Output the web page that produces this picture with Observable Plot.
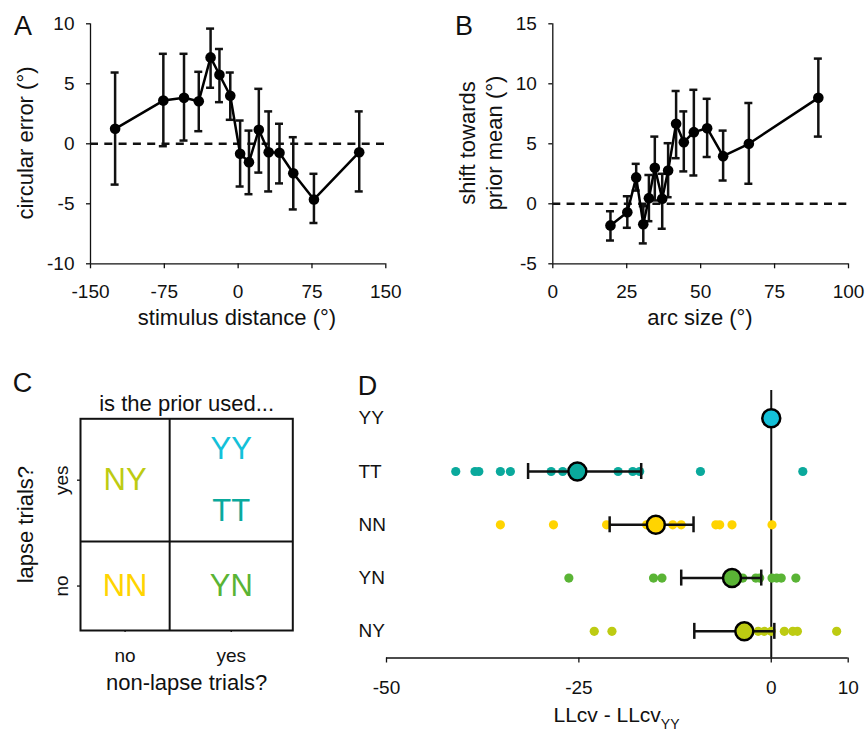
<!DOCTYPE html>
<html>
<head>
<meta charset="utf-8">
<script src="https://cdn.jsdelivr.net/npm/d3@7"></script>
<script src="https://cdn.jsdelivr.net/npm/@observablehq/plot@0.6"></script>
<style>
  html, body { margin: 0; padding: 0; background: #fff; }
  #root { position: relative; width: 865px; height: 730px; background: #fff; overflow: hidden;
          font-family: 'Liberation Sans', Arial, Helvetica, sans-serif; color: #111; }
  #root svg { position: absolute; }
  .lbl { position: absolute; line-height: 1; white-space: nowrap; }
</style>
</head>
<body>
<div id="root"></div>
<script>
// ---------- Panel A data ----------
const aDistance = [-125, -76, -55, -40, -28, -19, -8, 2, 11, 21, 31, 42, 56, 77, 123];
const aError    = [1.25, 3.6, 3.83, 3.55, 7.2, 5.75, 4.0, -0.83, -1.53, 1.17, -0.7, -0.75, -2.45, -4.64, -0.7];
const aErrHi    = [5.94, 7.5, 7.5, 6.0, 9.6, 7.9, 5.94, 1.94, 1.1, 4.58, 2.7, 1.67, 0.55, -2.5, 2.7];
const aErrLo    = [-3.4, -0.2, 0.27, 1.05, 4.67, 3.47, 2.0, -3.56, -4.2, -2.4, -3.97, -3.3, -5.47, -6.6, -3.97];
const aXTicks = [-150, -75, 0, 75, 150];
const aYTicks = [-10, -5, 0, 5, 10];

// ---------- Panel B data ----------
const bArc    = [19.5, 25.2, 28.2, 30.6, 32.5, 34.5, 37.0, 39.0, 41.7, 44.3, 47.7, 52.2, 57.6, 66.3, 89.8];
const bShift  = [-1.8, -0.7, 2.2, -1.7, 0.47, 3.0, 0.42, 2.78, 6.67, 5.13, 5.97, 6.3, 3.97, 5.0, 8.83];
const bErrHi  = [-0.62, 0.63, 3.33, -0.2, 2.4, 5.6, 2.5, 5.05, 9.4, 7.7, 9.5, 8.75, 6.1, 8.4, 12.1];
const bErrLo  = [-3.06, -2.0, 1.1, -3.3, -1.45, 0.28, -2.08, 0.55, 3.8, 2.7, 2.36, 3.9, 1.94, 1.67, 5.6];
const bXTicks = [0, 25, 50, 75, 100];
const bYTicks = [-5, 0, 5, 10, 15];

// ---------- Panel C data ----------
const cCols = ["no", "yes"];          // non-lapse trials?
const cRows = ["yes", "no"];          // lapse trials?
const cModel = ["NY", "YY", "TT", "NN", "YN"];
const cModelCol = ["no", "yes", "yes", "no", "yes"];
const cModelRow = ["yes", "yes", "yes", "no", "no"];

// ---------- Panel D data ----------
const dModels = ["YY", "TT", "NN", "YN", "NY"];
const dColors = ["#14C1D9", "#0AA99C", "#FFD400", "#5AB435", "#BDCB12"];
const dMean   = [0, -25.2, -15.0, -5.1, -3.5];
const dLo     = [null, -31.6, -21.0, -11.7, -10.0];
const dHi     = [null, -16.9, -10.1, -1.3, 0.4];
const dSubjTT = [-41.0, -38.5, -38.0, -35.2, -33.9, -28.6, -27.1, -19.9, -18.0, -17.1, -9.2, 4.1];
const dSubjNN = [-35.2, -28.3, -21.4, -16.2, -14.5, -12.8, -11.7, -7.2, -6.7, -5.1, 0.1];
const dSubjYN = [-26.3, -15.3, -14.2, -3.7, -2.0, -1.5, 0.1, 0.7, 1.3, 3.2];
const dSubjNY = [-23.0, -20.7, -1.7, -0.9, 0.0, 1.7, 2.8, 3.4, 8.5];
const dXTicks = [-50, -25, 0, 10];

// ---------- helpers ----------
const FONT = "'Liberation Sans', Arial, Helvetica, sans-serif";
const root = document.getElementById("root");
const baseStyle = {fontFamily: FONT, fontSize: "19px", color: "#111", background: "transparent", overflow: "visible"};
const fmt = d => String(d);

function place(svg, left, top) {
  svg.style.left = left + "px";
  svg.style.top = top + "px";
  root.appendChild(svg);
}
function label(html, cx, cy, size, rot = 0, extra = "") {
  const d = document.createElement("div");
  d.className = "lbl";
  d.innerHTML = html;
  d.style.cssText += `left:${cx}px;top:${cy}px;font-size:${size}px;transform:translate(-50%,-50%) rotate(${rot}deg);${extra}`;
  root.appendChild(d);
}

function errorPanel(data, xDomain, yDomain, xTicks, yTicks, margins, capPx) {
  return Plot.plot({
    width: 400, height: 300,
    ...margins,
    style: baseStyle,
    x: {domain: xDomain},
    y: {domain: yDomain},
    marks: [
      Plot.axisX({ticks: xTicks, tickFormat: fmt, tickSize: 5, tickPadding: 16, label: null, strokeWidth: 1.3}),
      Plot.axisY({ticks: yTicks, tickFormat: fmt, tickSize: 4, tickPadding: 12, label: null, strokeWidth: 1.3}),
      Plot.ruleX([xDomain[0]], {strokeWidth: 1.3}),
      Plot.ruleY([yDomain[0]], {strokeWidth: 1.3}),
      Plot.ruleY([0], {strokeDasharray: "8,6.3", strokeWidth: 2.5}),
      Plot.ruleX(data, {x: "x", y1: "lo", y2: "hi", strokeWidth: 2.5}),
      Plot.ruleY(data, {y: "lo", x1: "x", x2: "x", insetLeft: -capPx, insetRight: -capPx, strokeWidth: 2.5}),
      Plot.ruleY(data, {y: "hi", x1: "x", x2: "x", insetLeft: -capPx, insetRight: -capPx, strokeWidth: 2.5}),
      Plot.line(data, {x: "x", y: "y", strokeWidth: 2.5, stroke: "black"}),
      Plot.dot(data, {x: "x", y: "y", r: 5.3, fill: "black"})
    ]
  });
}

// ---------- Panel A ----------
const aData = aDistance.map((x, i) => ({x, y: aError[i], lo: aErrLo[i], hi: aErrHi[i]}));
place(errorPanel(aData, [-150, 150], [-10, 10], aXTicks, aYTicks,
  {marginLeft: 90, marginRight: 14.7, marginTop: 23.3, marginBottom: 36.7}, 4), 0, 0);

// ---------- Panel B ----------
const bData = bArc.map((x, i) => ({x, y: bShift[i], lo: bErrLo[i], hi: bErrHi[i]}));
place(errorPanel(bData, [0, 100], [-5, 15], bXTicks, bYTicks,
  {marginLeft: 92.3, marginRight: 12, marginTop: 23.3, marginBottom: 36.7}, 4), 460, 0);

// ---------- Panel C ----------
const cSplit = 0.42;
const colCenter = c => c === "no" ? cSplit / 2 : (1 + cSplit) / 2;
const rowCenter = r => r === "no" ? cSplit / 2 : (1 + cSplit) / 2;
const cCells = cModel.map((m, i) => ({model: m, col: cModelCol[i], row: cModelRow[i], color: dColors[dModels.indexOf(m)]}));
cCells.forEach(c => {
  const same = cCells.filter(o => o.col === c.col && o.row === c.row);
  const k = same.indexOf(c);
  c.dy = (k - (same.length - 1) / 2) * 62;
});
const mid = {textAnchor: "middle", lineAnchor: "middle"};
const cPlot = Plot.plot({
  width: 340, height: 340,
  marginLeft: 80, marginRight: 47.7, marginTop: 38.3, marginBottom: 90,
  style: baseStyle,
  x: {domain: [0, 1], axis: null},
  y: {domain: [0, 1], axis: null},
  marks: [
    Plot.axisY({ticks: cRows.map(rowCenter), tickFormat: () => "", tickSize: 3, label: null, strokeWidth: 1.3}),
    Plot.axisX({ticks: cCols.map(colCenter), tickFormat: () => "", tickSize: 2, label: null, strokeWidth: 1.3}),
    Plot.frame({strokeWidth: 2}),
    Plot.ruleX([cSplit], {strokeWidth: 2}),
    Plot.ruleY([cSplit], {strokeWidth: 2}),
    ...cCells.map(c => Plot.text([c], {
      x: d => colCenter(d.col), y: d => rowCenter(d.row), text: d => d.model,
      fill: d => d.color, fontSize: 31, dy: c.dy, ...mid
    })),
    Plot.text(cRows, {y: rowCenter, frameAnchor: "left", dx: -18.3, rotate: -90, text: d => d, fontSize: 19, ...mid}),
    Plot.text(cCols, {x: colCenter, frameAnchor: "bottom", dy: 25, text: d => d, fontSize: 19, ...mid}),
    Plot.text(["is the prior used..."], {x: 0.5, frameAnchor: "top", dy: -14.5, text: d => d, fontSize: 22, ...mid}),
    Plot.text(["non-lapse trials?"], {x: 0.5, frameAnchor: "bottom", dy: 52, text: d => d, fontSize: 22, ...mid}),
    Plot.text(["lapse trials?"], {y: 0.5, frameAnchor: "left", dx: -55, rotate: -90, text: d => d, fontSize: 22, ...mid})
  ]
});
place(cPlot, 0, 380);

// ---------- Panel D ----------
const dSubjects = {TT: dSubjTT, NN: dSubjNN, YN: dSubjYN, NY: dSubjNY};
const dPoints = [];
dModels.forEach((m, i) => (dSubjects[m] || []).forEach(v => dPoints.push({v, i, color: dColors[i]})));
const dSummary = dModels.map((m, i) => ({i, mean: dMean[i], lo: dLo[i], hi: dHi[i], color: dColors[i]}));
const dBars = dSummary.filter(d => d.lo != null);
const dYDomain = [4.5, -0.52];
const dPlot = Plot.plot({
  width: 520, height: 350,
  marginLeft: 46, marginRight: 12.3, marginTop: 10, marginBottom: 72.5,
  style: baseStyle,
  x: {domain: [-50, 10]},
  y: {domain: dYDomain, axis: null},
  marks: [
    Plot.axisX({ticks: dXTicks, tickFormat: fmt, tickSize: 5, tickPadding: 17, label: null, strokeWidth: 1.3}),
    Plot.ruleY([dYDomain[0]], {strokeWidth: 1.3}),
    Plot.text(dModels, {y: (d, i) => i, frameAnchor: "left", dx: -28, textAnchor: "start", lineAnchor: "middle", text: d => d, fontSize: 19}),
    Plot.ruleX([0], {strokeWidth: 2}),
    Plot.dot(dPoints, {x: "v", y: "i", r: 4.6, fill: "color"}),
    Plot.ruleY(dBars, {y: "i", x1: "lo", x2: "hi", strokeWidth: 2.5}),
    Plot.ruleX(dBars, {x: "lo", y1: "i", y2: "i", insetTop: -8, insetBottom: -8, strokeWidth: 2.5}),
    Plot.ruleX(dBars, {x: "hi", y1: "i", y2: "i", insetTop: -8, insetBottom: -8, strokeWidth: 2.5}),
    Plot.dot(dSummary, {x: "mean", y: "i", r: 9, fill: "color", stroke: "black", strokeWidth: 2.5})
  ]
});
place(dPlot, 340, 380);

// ---------- titles & panel letters ----------
label("A", 23, 26, 27);
label("B", 464, 26, 27);
label("C", 22.5, 382.5, 27);
label("D", 367.5, 386, 27);
label("stimulus distance (°)", 237, 318, 22);
label("circular error (°)", 26, 143, 22, -90);
label("arc size (°)", 700, 318, 22);
label("shift towards<br>prior mean (°)", 481.5, 143, 22, -90, "line-height:26.7px;text-align:center;");
label("LLcv - LLcv<span style=\"font-size:14px;position:relative;top:7px;\">YY</span>", 616.5, 714, 21);
</script>
</body>
</html>
